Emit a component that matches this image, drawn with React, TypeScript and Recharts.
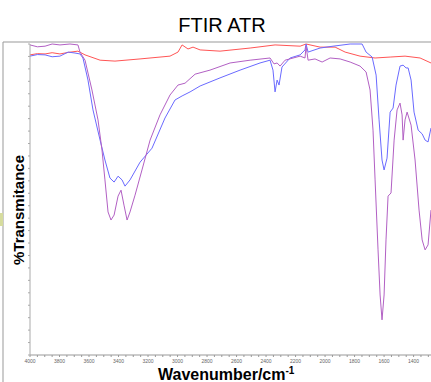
import { LineChart, Line, XAxis, YAxis } from 'recharts';

// wavenumber (cm-1) / %T pairs
const redWn = [4000, 3950, 3898, 3850, 3797, 3740, 3675, 3627, 3525, 3424, 3254, 3051, 2997, 2969, 2929, 2895, 2847, 2712, 2508, 2339, 2169, 2129, 2034, 1932, 1864, 1763, 1661, 1559, 1458, 1356, 1282];
const redT = [96.5, 96.9, 96.8, 97.2, 96.8, 97.3, 97.7, 96.5, 94.8, 94.5, 95.2, 96.1, 97.4, 99.7, 98.4, 99.0, 98.1, 97.7, 98.7, 99.7, 99.3, 100, 99.0, 99.0, 97.4, 96.1, 95.5, 95.8, 96.1, 95.5, 93.9];

const blueWn = [4000, 3950, 3898, 3850, 3797, 3742, 3695, 3661, 3641, 3607, 3573, 3525, 3492, 3458, 3430, 3403, 3376, 3356, 3322, 3254, 3173, 3085, 3017, 2969, 2915, 2847, 2712, 2576, 2441, 2373, 2353, 2339, 2325, 2312, 2292, 2237, 2169, 2136, 2129, 2115, 2034, 1946, 1830, 1749, 1722, 1681, 1654, 1634, 1614, 1600, 1580, 1559, 1539, 1519, 1492, 1471, 1451, 1437, 1417, 1397, 1369, 1342, 1322, 1302, 1282];
const blueT = [96.1, 96.6, 96.5, 95.9, 96.1, 97.4, 97.1, 96.8, 95.5, 88.4, 78.8, 69.1, 62.7, 56.9, 55.6, 57.5, 56.3, 54.3, 56.3, 62.0, 66.5, 76.2, 82.0, 83.3, 84.6, 86.5, 89.1, 91.6, 93.9, 94.8, 91.6, 84.6, 88.4, 86.8, 92.6, 95.5, 96.5, 98.1, 100, 97.4, 98.7, 99.3, 100, 100, 97.4, 95.8, 90.0, 75.6, 62.7, 59.5, 63.3, 78.1, 79.4, 86.8, 92.9, 93.2, 92.3, 92.3, 88.4, 78.1, 72.3, 71.1, 69.1, 68.5, 73.0];

const purpleWn = [4000, 3950, 3898, 3850, 3797, 3729, 3675, 3661, 3627, 3580, 3539, 3512, 3492, 3471, 3451, 3430, 3403, 3383, 3363, 3342, 3322, 3288, 3241, 3186, 3119, 3051, 2997, 2949, 2881, 2780, 2644, 2508, 2373, 2346, 2325, 2305, 2271, 2169, 2136, 2129, 2115, 2068, 2020, 1966, 1898, 1830, 1763, 1722, 1695, 1675, 1661, 1641, 1627, 1614, 1600, 1587, 1573, 1553, 1532, 1512, 1492, 1478, 1471, 1458, 1444, 1417, 1390, 1363, 1342, 1322, 1302, 1282];
const purpleT = [99.7, 99.1, 99.3, 100, 99.7, 100, 99.7, 97.4, 94.8, 85.2, 75.6, 65.9, 56.3, 46.0, 43.4, 45.0, 51.1, 53.0, 48.2, 43.4, 46.0, 51.4, 59.5, 69.1, 77.2, 83.6, 86.8, 87.4, 90.3, 91.6, 93.9, 94.8, 95.5, 93.6, 93.9, 92.9, 94.8, 96.1, 95.5, 99.3, 94.8, 95.2, 94.2, 95.5, 95.2, 94.2, 92.9, 91.0, 85.2, 72.3, 56.3, 33.8, 19.3, 11.3, 19.3, 37.0, 51.1, 52.1, 69.1, 78.8, 81.0, 77.2, 69.1, 75.6, 78.1, 73.9, 62.7, 46.6, 37.0, 33.8, 35.4, 46.6];

const xTicks = [4000, 3800, 3600, 3400, 3200, 3000, 2800, 2600, 2400, 2200, 2000, 1800, 1600, 1400];

const toRows = (wn: number[], t: number[]) => wn.map((w, i) => ({ wn: w, t: t[i] }));

const minorX: number[] = [];
for (let w = 4000; w >= 1300; w -= 50) minorX.push(w);
const minorY: number[] = [];
for (let v = 0; v <= 100; v += 4) minorY.push(v);

export default function App() {
  return (
    <div style={{ position: 'absolute', left: 0, top: 0, width: 431, height: 382, background: '#fff', fontFamily: '"Liberation Sans", Arial, sans-serif' }}>
      <LineChart width={431} height={382} margin={{ top: 44, right: 0, left: 0, bottom: 0 }}>
        <XAxis
          dataKey="wn"
          type="number"
          domain={[1282, 4000]}
          reversed
          allowDataOverflow
          ticks={minorX}
          interval={0}
          height={27}
          tickSize={2}
          tickFormatter={(v: number) => (xTicks.includes(v) ? String(v) : '')}
          tick={{ fontSize: 5, fill: '#666' }}
          stroke="#999"
        />
        <YAxis
          type="number"
          domain={[0, 100]}
          ticks={minorY}
          interval={0}
          width={30}
          tickSize={2}
          tickFormatter={() => ''}
          stroke="#aaa"
        />
        <Line data={toRows(redWn, redT)} dataKey="t" type="linear" stroke="#ff5555" strokeWidth={1} dot={false} isAnimationActive={false} />
        <Line data={toRows(blueWn, blueT)} dataKey="t" type="linear" stroke="#6a6aff" strokeWidth={1} dot={false} isAnimationActive={false} />
        <Line data={toRows(purpleWn, purpleT)} dataKey="t" type="linear" stroke="#b260c4" strokeWidth={1} dot={false} isAnimationActive={false} />
      </LineChart>
      <svg width={431} height={382} style={{ position: 'absolute', left: 0, top: 0, pointerEvents: 'none' }}>
        <line x1={3} y1={42} x2={431} y2={42} stroke="#999" />
        <line x1={3} y1={42} x2={3} y2={382} stroke="#999" />
        <rect x={0} y={213} width={3} height={13} fill="#d6dc9e" />
        <text x={222} y={32} textAnchor="middle" fontSize={20} fill="#000">FTIR ATR</text>
        <text x={158} y={380} fontSize={16} fontWeight="bold" fill="#000">
          Wavenumber/cm<tspan dy={-6} fontSize={10}>-1</tspan>
        </text>
        <text transform="translate(24,210) rotate(-90)" textAnchor="middle" fontSize={15} fontWeight="bold" fill="#000">%Transmitance</text>
      </svg>
    </div>
  );
}
